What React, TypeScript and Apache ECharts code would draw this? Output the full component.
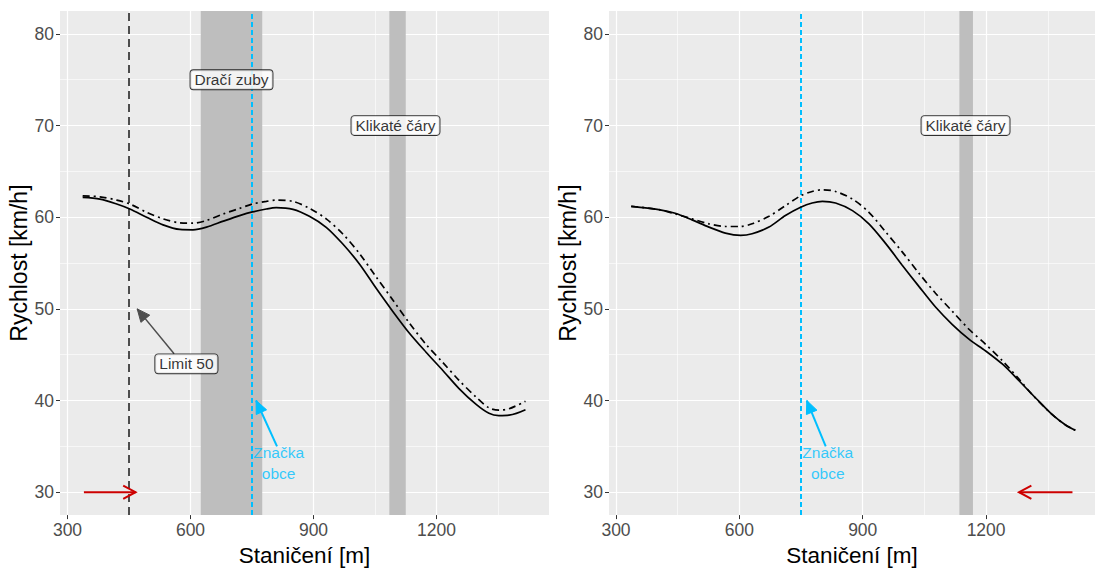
import React, { useEffect, useRef } from "react";
import * as echarts from "echarts";

// ---------- data ----------
const xTicks = [300, 600, 900, 1200];
const xMinor = [450, 750, 1050, 1350];
const yTicks = [30, 40, 50, 60, 70, 80];
const yMinor = [35, 45, 55, 65, 75];

const leftSolid = [
  [337, 62.16], [379, 61.98], [420, 61.44], [452, 60.9], [493, 60.0], [533, 59.17],
  [574, 58.67], [606, 58.63], [639, 58.92], [680, 59.57], [720, 60.18], [751, 60.58],
  [785, 60.9], [809, 61.04], [850, 60.86], [890, 60.1], [931, 58.9], [971, 57.1],
  [1012, 54.9], [1052, 52.3], [1093, 49.75], [1133, 47.4], [1174, 45.3], [1215, 43.3],
  [1255, 41.3], [1296, 39.6], [1328, 38.6], [1352, 38.35], [1377, 38.4], [1417, 39.0],
];
const leftDashDot = [
  [337, 62.34], [379, 62.23], [420, 61.87], [452, 61.44], [493, 60.54], [533, 59.82],
  [574, 59.39], [606, 59.35], [639, 59.64], [680, 60.36], [720, 60.97], [751, 61.44],
  [785, 61.73], [809, 61.87], [850, 61.73], [890, 60.97], [931, 59.82], [971, 58.2],
  [1012, 56.04], [1052, 53.53], [1093, 51.0], [1133, 48.5], [1174, 46.15], [1215, 44.17],
  [1255, 42.2], [1296, 40.4], [1328, 39.2], [1352, 38.96], [1377, 39.1], [1417, 39.93],
];
const rightSolid = [
  [337, 61.19], [404, 60.83], [444, 60.43], [485, 59.71], [526, 58.92], [566, 58.27],
  [603, 58.02], [631, 58.2], [672, 58.92], [712, 60.18], [749, 61.08], [777, 61.55],
  [802, 61.73], [834, 61.55], [875, 60.72], [915, 59.28], [956, 57.12], [996, 54.77],
  [1037, 52.43], [1077, 50.2], [1118, 48.29], [1159, 46.67], [1199, 45.41], [1240, 43.96],
  [1280, 42.16], [1321, 40.25], [1361, 38.45], [1394, 37.3], [1417, 36.76],
];
const rightDashDot = [
  [337, 61.19], [404, 60.83], [444, 60.36], [485, 59.82], [526, 59.28], [566, 58.99],
  [603, 58.99], [631, 59.28], [672, 60.1], [712, 61.26], [749, 62.34], [777, 62.81],
  [802, 62.99], [834, 62.81], [875, 61.98], [915, 60.54], [956, 58.38], [996, 56.22],
  [1037, 53.87], [1077, 51.71], [1118, 49.73], [1159, 47.75], [1199, 46.13], [1240, 44.32],
  [1280, 42.34], [1310, 40.75], [1361, 38.45], [1394, 37.3], [1417, 36.76],
];

const leftShades = [[625, 775], [1085, 1125]];
const rightShades = [[1135, 1168]];
const leftLimitLine = [450];
const signLine = [750];

const leftLabels = [
  { text: "Dračí zuby", x: 700, y: 75 },
  { text: "Klikaté čáry", x: 1100, y: 70 },
  { text: "Limit 50", x: 590, y: 44 },
];
const rightLabels = [{ text: "Klikaté čáry", x: 1150, y: 70 }];

const signText = { text: "Značka\nobce", x: 815, y: 33.15 };

const leftGreyArrows = [[560, 45.1, 470, 50]];
const leftCyanArrows = [[811, 35, 760, 40]];
const rightCyanArrows = [[810, 35, 764, 40]];
const leftRedArrows = [[340, 30, 466, 30]];
const rightRedArrows = [[1410, 30, 1280, 30]];

const xRangeLeft = [281.7, 1474.4];
const xRangeRight = [283, 1464.8];
const yRange = [27.5, 82.5];

// ---------- styling helpers ----------
const FONT = "'Liberation Sans', Arial, sans-serif";
const CYAN = "#00BFFF";
const RED = "#CD0000";
const GREY30 = "#4D4D4D";
const SHADE = "#BEBEBE";

function arrowRender(color: string, width: number, closed: boolean, headLen: number, halfDeg: number) {
  return (params: any, api: any) => {
    const a = api.coord([api.value(0), api.value(1)]);
    const b = api.coord([api.value(2), api.value(3)]);
    const ang = Math.atan2(b[1] - a[1], b[0] - a[0]);
    const h = (halfDeg * Math.PI) / 180;
    const p1 = [b[0] - headLen * Math.cos(ang - h), b[1] - headLen * Math.sin(ang - h)];
    const p2 = [b[0] - headLen * Math.cos(ang + h), b[1] - headLen * Math.sin(ang + h)];
    const children: any[] = [
      {
        type: "line",
        shape: { x1: a[0], y1: a[1], x2: b[0], y2: b[1] },
        style: { stroke: color, lineWidth: width },
      },
    ];
    if (closed) {
      children.push({
        type: "polygon",
        shape: { points: [b, p1, p2] },
        style: { fill: color, stroke: color, lineWidth: 1 },
      });
    } else {
      children.push({
        type: "polyline",
        shape: { points: [p1, b, p2] },
        style: { stroke: color, lineWidth: width, fill: null },
      });
    }
    return { type: "group", children };
  };
}

function gridSeries(idx: number) {
  const major = { color: "#FFFFFF", width: 1.2, type: "solid" };
  const minor = { color: "#FFFFFF", width: 0.6, type: "solid" };
  return {
    type: "line",
    xAxisIndex: idx,
    yAxisIndex: idx,
    data: [],
    silent: true,
    z: 1,
    markLine: {
      silent: true,
      symbol: "none",
      animation: false,
      z: 1,
      label: { show: false },
      data: [
        ...xMinor.map((v) => ({ xAxis: v, lineStyle: minor })),
        ...yMinor.map((v) => ({ yAxis: v, lineStyle: minor })),
        ...xTicks.map((v) => ({ xAxis: v, lineStyle: major })),
        ...yTicks.map((v) => ({ yAxis: v, lineStyle: major })),
      ],
    },
  };
}

function shadeSeries(idx: number, shades: number[][]) {
  return {
    type: "line",
    xAxisIndex: idx,
    yAxisIndex: idx,
    data: [],
    silent: true,
    z: 2,
    markArea: {
      silent: true,
      z: 2,
      itemStyle: { color: SHADE, opacity: 1 },
      label: { show: false },
      data: shades.map((s) => [{ xAxis: s[0] }, { xAxis: s[1] }]),
    },
  };
}

function vlineSeries(idx: number, values: number[], color: string, width: number, dash: number[]) {
  return {
    type: "line",
    xAxisIndex: idx,
    yAxisIndex: idx,
    data: [],
    silent: true,
    z: 3,
    markLine: {
      silent: true,
      symbol: "none",
      z: 3,
      label: { show: false },
      lineStyle: { color, width, type: dash },
      data: values.map((v) => ({ xAxis: v })),
    },
  };
}

function curveSeries(idx: number, data: number[][], dash: any) {
  return {
    type: "line",
    xAxisIndex: idx,
    yAxisIndex: idx,
    data,
    showSymbol: false,
    smooth: 0.3,
    silent: true,
    z: 4,
    lineStyle: { color: "#000000", width: 1.7, type: dash },
  };
}

function arrowSeries(idx: number, data: number[][], color: string, width: number, closed: boolean) {
  return {
    type: "custom",
    xAxisIndex: idx,
    yAxisIndex: idx,
    coordinateSystem: "cartesian2d",
    data,
    silent: true,
    clip: false,
    z: 5,
    encode: { x: [0, 2], y: [1, 3] },
    renderItem: arrowRender(color, width, closed, 14, closed ? 24 : 28),
  };
}

function labelSeries(idx: number, labels: { text: string; x: number; y: number }[]) {
  return {
    type: "scatter",
    xAxisIndex: idx,
    yAxisIndex: idx,
    symbolSize: 0,
    silent: true,
    z: 6,
    data: labels.map((l) => ({ value: [l.x, l.y], name: l.text })),
    label: {
      show: true,
      position: "inside",
      formatter: (p: any) => p.name,
      color: "#000000",
      fontFamily: FONT,
      fontSize: 15.5,
      lineHeight: 16,
      backgroundColor: "#FFFFFF",
      borderColor: "#000000",
      borderWidth: 0.9,
      borderRadius: 3,
      padding: [2, 4, 1, 4],
    },
  };
}

function signTextSeries(idx: number) {
  return {
    type: "scatter",
    xAxisIndex: idx,
    yAxisIndex: idx,
    symbolSize: 0,
    silent: true,
    z: 6,
    data: [{ value: [signText.x, signText.y], name: signText.text }],
    label: {
      show: true,
      position: "inside",
      formatter: (p: any) => p.name,
      color: CYAN,
      fontFamily: FONT,
      fontSize: 15.5,
      lineHeight: 21,
      align: "center",
    },
  };
}

function xAxis(idx: number, range: number[]) {
  return {
    type: "value",
    gridIndex: idx,
    min: range[0],
    max: range[1],
    splitNumber: 4,
    name: "Staničení [m]",
    nameLocation: "middle",
    nameGap: 25,
    nameTextStyle: { color: "#000000", fontSize: 22.5, fontFamily: FONT },
    axisLine: { show: false },
    axisTick: { show: true, length: 4, lineStyle: { color: "#333333", width: 1 }, customValues: xTicks },
    axisLabel: {
      show: true,
      margin: 6,
      color: GREY30,
      fontSize: 17.5,
      fontFamily: FONT,
      customValues: xTicks,
      formatter: (v: number) => (xTicks.includes(Math.round(v * 1000) / 1000) ? String(v) : ""),
    },
    splitLine: { show: false },
    minorSplitLine: { show: false },
  };
}

function yAxis(idx: number) {
  return {
    type: "value",
    gridIndex: idx,
    min: yRange[0],
    max: yRange[1],
    name: "Rychlost [km/h]",
    nameLocation: "middle",
    nameGap: 27,
    nameTextStyle: { color: "#000000", fontSize: 23, fontFamily: FONT },
    axisLine: { show: false },
    axisTick: { show: true, length: 4, lineStyle: { color: "#333333", width: 1 }, customValues: yTicks },
    axisLabel: {
      show: true,
      margin: 6,
      color: GREY30,
      fontSize: 17.5,
      fontFamily: FONT,
      customValues: yTicks,
      formatter: (v: number) => (yTicks.includes(Math.round(v * 1000) / 1000) ? String(v) : ""),
    },
    splitLine: { show: false },
  };
}

export default function App() {
  const ref = useRef<HTMLDivElement>(null);
  useEffect(() => {
    document.body.style.margin = "0";
    if (!ref.current) return;
    const chart = echarts.init(ref.current, undefined, { renderer: "svg" });
    const option: any = {
      animation: false,
      backgroundColor: "#FFFFFF",
      grid: [
        { left: 60, top: 11, width: 489, height: 510, show: true, backgroundColor: "#EBEBEB", borderWidth: 0 },
        { left: 609, top: 11, width: 486, height: 510, show: true, backgroundColor: "#EBEBEB", borderWidth: 0 },
      ],
      xAxis: [xAxis(0, xRangeLeft), xAxis(1, xRangeRight)],
      yAxis: [yAxis(0), yAxis(1)],
      series: [
        gridSeries(0),
        gridSeries(1),
        shadeSeries(0, leftShades),
        shadeSeries(1, rightShades),
        vlineSeries(0, leftLimitLine, GREY30, 2, [8, 5]),
        vlineSeries(0, signLine, CYAN, 2, [5, 3]),
        vlineSeries(1, signLine, CYAN, 2, [5, 3]),
        curveSeries(0, leftSolid, "solid"),
        curveSeries(0, leftDashDot, [7, 4, 2, 4]),
        curveSeries(1, rightSolid, "solid"),
        curveSeries(1, rightDashDot, [7, 4, 2, 4]),
        arrowSeries(0, leftGreyArrows, GREY30, 1.5, true),
        arrowSeries(0, leftCyanArrows, CYAN, 2, true),
        arrowSeries(1, rightCyanArrows, CYAN, 2, true),
        arrowSeries(0, leftRedArrows, RED, 2, false),
        arrowSeries(1, rightRedArrows, RED, 2, false),
        labelSeries(0, leftLabels),
        labelSeries(1, rightLabels),
        signTextSeries(0),
        signTextSeries(1),
      ],
    };
    chart.setOption(option);
    return () => chart.dispose();
  }, []);
  return <div ref={ref} style={{ width: 1095, height: 572 }} />;
}
